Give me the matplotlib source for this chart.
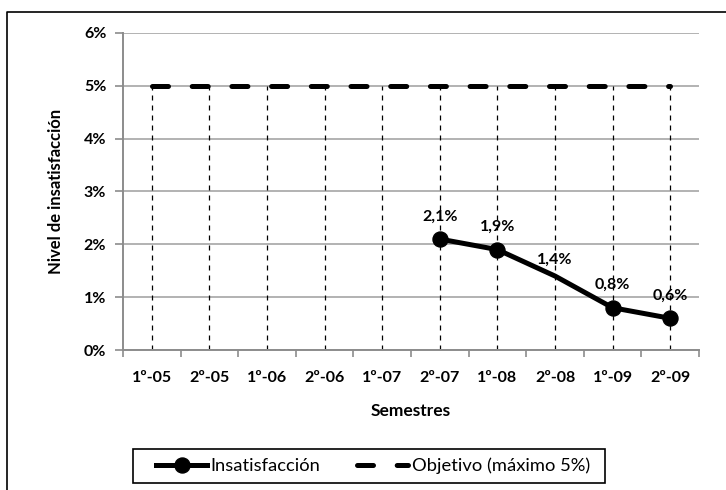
import numpy as np
import matplotlib.pyplot as plt
from matplotlib.lines import Line2D
from matplotlib.patches import Rectangle
from matplotlib.ticker import FixedLocator

plt.rcParams['font.family'] = ['Lato', 'DejaVu Sans']

semestres = ['1º-05', '2º-05', '1º-06', '2º-06', '1º-07',
             '2º-07', '1º-08', '2º-08', '1º-09', '2º-09']
insatisfaccion = [np.nan, np.nan, np.nan, np.nan, np.nan, 2.1, 1.9, 1.4, 0.8, 0.6]
objetivo = [5, 5, 5, 5, 5, 5, 5, 5, 5, 5]
con_marcador = [5, 6, 8, 9]   # 2º-08 va sin circulo
ticks_y = [0, 1, 2, 3, 4, 5, 6]

gris = '#8c8c8c'
x = np.arange(len(semestres))

fig = plt.figure(figsize=(7.26, 4.90), dpi=100)
ax = fig.add_axes([123 / 726, 1 - 350 / 490, 576 / 726, 317 / 490])

# lineas verticales desde el objetivo hasta el eje
ax.vlines(x, 0, objetivo, colors='black', linewidth=0.9,
          linestyles=(0, (4, 4)), zorder=2)

ax.plot(x, objetivo, color='black', linewidth=3.6, dashes=(3.2, 4.74),
        dash_capstyle='round', zorder=3)

ax.plot(x, insatisfaccion, color='black', linewidth=3.6, marker='o',
        markersize=10.8, markevery=con_marcador, zorder=4)

for xi, v in zip(x, insatisfaccion):
    if np.isnan(v):
        continue
    etiqueta = f'{v:.1f}%'.replace('.', ',')
    dy = 0.35 if xi in con_marcador else 0.24
    ax.text(xi, v + dy, etiqueta, ha='center', va='baseline',
            fontsize=11.5, fontweight='bold')

ax.set_xlim(-0.5, len(semestres) - 0.5)
ax.set_ylim(0, 6)
ax.set_xticks(x)
ax.set_xticklabels(semestres, fontsize=11.5, fontweight='bold')
ax.xaxis.set_minor_locator(FixedLocator(np.arange(-0.5, len(semestres), 1)))
ax.tick_params(axis='x', which='major', length=0, pad=15)
ax.tick_params(axis='x', which='minor', length=5, color=gris, width=1.2)
ax.set_yticks(ticks_y)
ax.set_yticklabels([f'{t}%' for t in ticks_y], fontsize=11.5, fontweight='bold')
ax.tick_params(axis='y', length=6, color=gris, width=1.2, pad=6)

ax.grid(axis='y', color='#a6a6a6', linewidth=1.2)
ax.set_axisbelow(True)
for lado in ['top', 'right']:
    ax.spines[lado].set_visible(False)
for lado in ['left', 'bottom']:
    ax.spines[lado].set_color(gris)
    ax.spines[lado].set_linewidth(1.4)

ax.set_xlabel('Semestres', fontsize=12.5, fontweight='bold', labelpad=13)
ax.set_ylabel('Nivel de insatisfacción', fontsize=12, fontweight='bold', labelpad=14)

# leyenda
manejadores = [
    Line2D([], [], color='black', linewidth=3.6, marker='o', markersize=10.8),
    Line2D([], [], color='black', linewidth=3.6, dashes=(3.2, 4.74),
           dash_capstyle='round'),
]
fig.legend(manejadores, ['Insatisfacción', 'Objetivo (máximo 5%)'],
           loc='center', bbox_to_anchor=(373 / 726, 1 - 466 / 490), ncol=2,
           frameon=False, fontsize=13.2, handlelength=2.8, handletextpad=0.17,
           columnspacing=2.0)
fig.patches.append(Rectangle((133 / 726, 1 - 483 / 490), 472 / 726, 34 / 490,
                             transform=fig.transFigure, fill=False,
                             edgecolor='black', linewidth=1.2))

# marco exterior (solo arriba e izquierda)
fig.add_artist(Line2D([7 / 726, 7 / 726, 1], [0, 1 - 12 / 490, 1 - 12 / 490],
                      transform=fig.transFigure, color='black', linewidth=1.2))

fig.savefig('out.png', dpi=100)
